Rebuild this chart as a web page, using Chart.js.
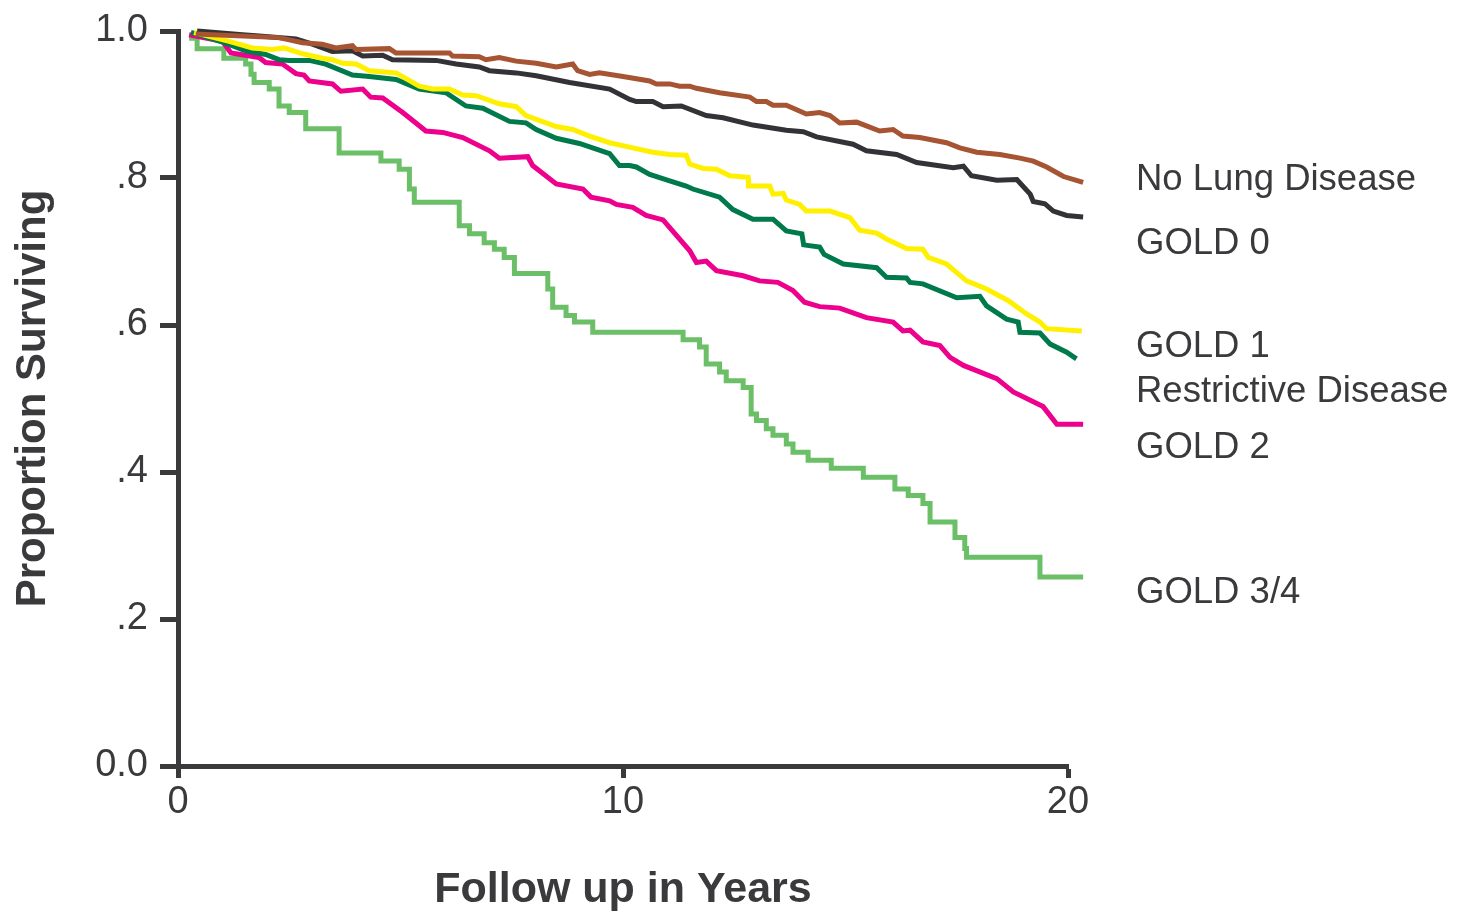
<!DOCTYPE html>
<html>
<head>
<meta charset="utf-8">
<title>Survival by lung function</title>
<script src="https://cdn.jsdelivr.net/npm/chart.js@4.4.1/dist/chart.umd.min.js"></script>
<style>
  body { margin: 0; background: #fff; }
  canvas { display: block; }
</style>
</head>
<body>
<canvas id="survival-chart" width="1462" height="913"></canvas>
<script>
// curve names, in the order they are labelled on the right
var seriesNames = ["No Lung Disease", "GOLD 0", "GOLD 1", "Restrictive Disease", "GOLD 2", "GOLD 3/4"];

// x ticks and y ticks
var yearTicks = [0, 10, 20];
var survTicks = [0, 0.2, 0.4, 0.6, 0.8, 1.0];

// follow up time (years) and proportion surviving
var noLungT = [0.40, 2.27, 2.80, 3.24, 3.55, 3.92, 4.00, 4.75, 4.90, 6.10, 6.17, 6.77, 6.92, 7.22, 7.60, 8.05, 8.50, 8.87, 8.98, 9.25, 9.47, 10.0, 10.60, 10.75, 11.05, 11.27, 11.50, 11.65, 12.17, 12.85, 13.0, 13.22, 13.37, 13.67, 14.12, 14.42, 14.65, 14.87, 15.25, 15.47, 15.77, 16.07, 16.29, 16.67, 17.27, 17.57, 17.95, 18.47, 18.92, 19.22, 19.52, 19.90, 20.34];
var noLungS = [0.996, 0.991, 0.984, 0.982, 0.977, 0.980, 0.975, 0.976, 0.970, 0.970, 0.966, 0.965, 0.961, 0.964, 0.959, 0.956, 0.951, 0.955, 0.946, 0.941, 0.943, 0.938, 0.932, 0.928, 0.928, 0.925, 0.925, 0.922, 0.916, 0.910, 0.904, 0.904, 0.899, 0.899, 0.887, 0.889, 0.885, 0.875, 0.876, 0.871, 0.864, 0.866, 0.857, 0.855, 0.848, 0.841, 0.835, 0.832, 0.827, 0.823, 0.815, 0.802, 0.794];

var gold0T = [0.43, 1.45, 1.90, 2.65, 3.02, 3.47, 3.92, 4.15, 4.60, 4.82, 5.80, 6.25, 6.77, 7.00, 7.60, 8.05, 8.80, 9.70, 10.15, 10.30, 10.67, 10.90, 11.31, 11.87, 12.25, 12.92, 13.67, 14.05, 14.35, 15.17, 15.47, 16.15, 16.60, 17.42, 17.65, 17.83, 18.40, 18.85, 19.15, 19.22, 19.48, 19.67, 19.97, 20.34];
var gold0S = [1.0, 0.995, 0.993, 0.989, 0.982, 0.972, 0.973, 0.966, 0.967, 0.961, 0.960, 0.955, 0.951, 0.946, 0.943, 0.939, 0.930, 0.921, 0.907, 0.904, 0.904, 0.897, 0.898, 0.885, 0.882, 0.872, 0.865, 0.863, 0.856, 0.846, 0.837, 0.832, 0.821, 0.814, 0.816, 0.803, 0.797, 0.798, 0.778, 0.768, 0.765, 0.755, 0.749, 0.747];

var gold1T = [0.36, 1.15, 1.67, 2.12, 2.38, 2.80, 3.25, 3.47, 3.70, 4.0, 4.30, 4.90, 5.42, 5.72, 6.10, 6.40, 6.70, 7.22, 7.60, 7.82, 8.50, 8.87, 9.25, 9.70, 10.22, 10.67, 11.05, 11.42, 11.50, 11.80, 12.10, 12.40, 12.81, 12.82, 13.30, 13.37, 13.60, 13.67, 13.97, 14.12, 14.65, 15.10, 15.32, 15.70, 15.92, 16.37, 16.74, 16.86, 17.27, 17.72, 18.17, 18.66, 19.07, 19.37, 19.52, 20.31, 20.32];
var gold1S = [0.998, 0.986, 0.977, 0.975, 0.977, 0.969, 0.963, 0.961, 0.956, 0.955, 0.946, 0.943, 0.925, 0.921, 0.921, 0.913, 0.912, 0.901, 0.897, 0.885, 0.870, 0.866, 0.857, 0.848, 0.841, 0.835, 0.832, 0.831, 0.819, 0.813, 0.812, 0.803, 0.801, 0.789, 0.789, 0.778, 0.779, 0.770, 0.764, 0.755, 0.755, 0.746, 0.729, 0.725, 0.717, 0.704, 0.703, 0.692, 0.683, 0.660, 0.649, 0.633, 0.615, 0.604, 0.595, 0.592, 0.577];

var restrictT = [0.29, 1.0, 1.52, 1.97, 2.27, 2.50, 2.95, 3.32, 3.92, 4.30, 4.90, 5.42, 6.02, 6.47, 6.85, 7.45, 7.82, 8.05, 8.50, 9.02, 9.70, 9.92, 10.15, 10.30, 10.60, 11.05, 11.42, 11.57, 12.17, 12.47, 12.92, 13.37, 13.67, 14.02, 14.06, 14.42, 14.52, 14.95, 15.70, 15.92, 16.37, 16.45, 16.74, 17.50, 18.02, 18.17, 18.62, 18.88, 18.92, 19.37, 19.60, 19.97, 20.19, 20.33, 20.34];
var restrictS = [0.998, 0.985, 0.973, 0.968, 0.961, 0.960, 0.960, 0.955, 0.940, 0.938, 0.934, 0.921, 0.916, 0.898, 0.895, 0.877, 0.875, 0.866, 0.854, 0.847, 0.833, 0.817, 0.817, 0.815, 0.805, 0.796, 0.789, 0.785, 0.774, 0.757, 0.744, 0.744, 0.728, 0.724, 0.709, 0.706, 0.696, 0.683, 0.678, 0.665, 0.664, 0.658, 0.656, 0.637, 0.639, 0.626, 0.608, 0.604, 0.590, 0.589, 0.574, 0.563, 0.554, 0.554, 0.545];

var gold2T = [0.25, 1.0, 1.19, 1.82, 1.97, 2.35, 2.65, 2.83, 2.95, 3.47, 3.66, 4.15, 4.33, 4.60, 5.05, 5.57, 5.95, 6.40, 7.0, 7.22, 7.86, 7.97, 8.50, 9.10, 9.28, 9.70, 9.85, 10.22, 10.52, 10.90, 11.50, 11.65, 11.87, 12.10, 12.70, 13.07, 13.48, 13.82, 14.08, 14.42, 14.87, 15.47, 16.07, 16.29, 16.45, 16.74, 17.12, 17.35, 17.65, 18.40, 18.77, 19.44, 19.75, 20.34];
var gold2S = [0.995, 0.986, 0.970, 0.964, 0.957, 0.955, 0.942, 0.940, 0.932, 0.928, 0.918, 0.921, 0.910, 0.909, 0.889, 0.864, 0.862, 0.855, 0.837, 0.827, 0.829, 0.817, 0.792, 0.785, 0.774, 0.769, 0.764, 0.760, 0.749, 0.743, 0.701, 0.685, 0.687, 0.674, 0.667, 0.660, 0.658, 0.647, 0.631, 0.625, 0.623, 0.610, 0.604, 0.592, 0.593, 0.577, 0.572, 0.556, 0.545, 0.527, 0.509, 0.489, 0.465, 0.465];

// GOLD 3/4 is drawn as a step curve: time of each drop and the new value
var gold34T = [0.25, 0.43, 1.03, 1.52, 1.64, 1.71, 2.05, 2.27, 2.50, 2.87, 3.62, 4.56, 4.97, 5.20, 5.31, 6.32, 6.55, 6.88, 7.11, 7.33, 7.56, 8.31, 8.42, 8.72, 8.91, 9.32, 11.35, 11.72, 11.87, 12.17, 12.32, 12.70, 12.88, 13.0, 13.22, 13.37, 13.67, 13.82, 14.16, 14.68, 15.40, 16.11, 16.41, 16.74, 16.90, 17.46, 17.68, 17.72, 19.37, 20.34];
var gold34S = [0.990, 0.976, 0.963, 0.955, 0.941, 0.930, 0.921, 0.898, 0.889, 0.867, 0.834, 0.823, 0.812, 0.785, 0.767, 0.735, 0.724, 0.712, 0.703, 0.692, 0.670, 0.649, 0.624, 0.613, 0.604, 0.590, 0.580, 0.570, 0.547, 0.536, 0.524, 0.515, 0.479, 0.470, 0.459, 0.450, 0.438, 0.427, 0.416, 0.405, 0.393, 0.377, 0.368, 0.357, 0.332, 0.311, 0.296, 0.284, 0.257, 0.257];

var ink = "#3a3a3d";
var fontFamily = '"Liberation Sans", Arial, Helvetica, sans-serif';

function toPoints(t, s) {
  var pts = [];
  for (var i = 0; i < t.length; i++) {
    pts.push({ x: t[i], y: s[i] });
  }
  return pts;
}

function curve(name, t, s, color, stepped) {
  return {
    label: name,
    data: toPoints(t, s),
    borderColor: color,
    backgroundColor: color,
    borderWidth: 5,
    pointRadius: 0,
    tension: 0,
    stepped: stepped,
    fill: false,
    clip: false
  };
}

// names written to the right of the plot (no legend box in the original)
var endLabels = {
  id: "endLabels",
  afterDatasetsDraw: function(chart, args, opts) {
    var ctx = chart.ctx;
    var yScale = chart.scales.y;
    ctx.save();
    ctx.font = "36.5px " + fontFamily;
    ctx.fillStyle = ink;
    ctx.textAlign = "left";
    ctx.textBaseline = "alphabetic";
    for (var i = 0; i < seriesNames.length; i++) {
      ctx.fillText(seriesNames[i], opts.x, yScale.getPixelForValue(opts.baselines[i]));
    }
    ctx.restore();
  }
};

var ctx = document.getElementById("survival-chart");

var chart = new Chart(ctx, {
  type: "line",
  data: {
    datasets: [
      curve(seriesNames[0], noLungT, noLungS, "#a65432", false),
      curve(seriesNames[1], gold0T, gold0S, "#333337", false),
      curve(seriesNames[2], gold1T, gold1S, "#fff000", false),
      curve(seriesNames[3], restrictT, restrictS, "#007a4b", false),
      curve(seriesNames[4], gold2T, gold2S, "#ec008c", false),
      curve(seriesNames[5], gold34T, gold34S, "#6bbf67", true)
    ]
  },
  plugins: [endLabels],
  options: {
    responsive: false,
    animation: false,
    layout: { padding: { top: 31, right: 394, bottom: 0, left: 0 } },
    plugins: {
      legend: { display: false },
      tooltip: { enabled: false },
      endLabels: { x: 1136, baselines: [0.783, 0.697, 0.557, 0.495, 0.419, 0.222] }
    },
    scales: {
      x: {
        type: "linear",
        min: 0,
        max: 20,
        afterFit: function(scale) { scale.height = 147; },
        afterBuildTicks: function(scale) {
          scale.ticks = yearTicks.map(function(v) { return { value: v }; });
        },
        ticks: {
          padding: 2,
          maxRotation: 0,
          color: ink,
          font: { family: fontFamily, size: 38 }
        },
        grid: {
          drawOnChartArea: false,
          drawTicks: true,
          tickLength: 12,
          tickWidth: 5,
          tickColor: ink
        },
        border: { display: true, width: 5, color: ink },
        title: {
          display: true,
          text: "Follow up in Years",
          color: ink,
          font: { family: fontFamily, size: 43, weight: "bold", lineHeight: 1.0 },
          padding: { top: 0, bottom: 1 }
        }
      },
      y: {
        type: "linear",
        min: 0,
        max: 1,
        afterFit: function(scale) { scale.width = 178; },
        afterBuildTicks: function(scale) {
          scale.ticks = survTicks.map(function(v) { return { value: v }; });
        },
        ticks: {
          padding: 12,
          color: ink,
          font: { family: fontFamily, size: 38, lineHeight: 0.7 },
          callback: function(v) {
            if (v === 0) return "0.0";
            if (v === 1) return "1.0";
            return v.toFixed(1).replace(/^0/, "");
          }
        },
        grid: {
          drawOnChartArea: false,
          drawTicks: true,
          tickLength: 18,
          tickWidth: 5,
          tickColor: ink
        },
        border: { display: true, width: 5, color: ink },
        title: {
          display: true,
          text: "Proportion Surviving",
          color: ink,
          font: { family: fontFamily, size: 42, weight: "bold" },
          padding: { top: 8, bottom: 0 }
        }
      }
    }
  }
});
</script>
</body>
</html>
